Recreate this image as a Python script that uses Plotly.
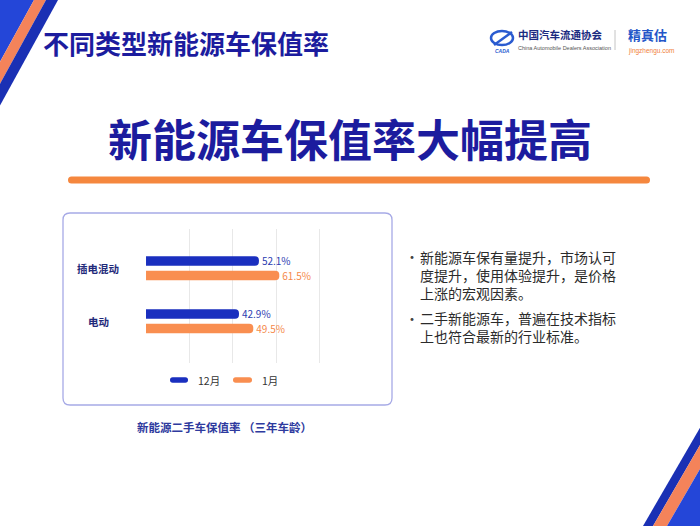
import plotly.graph_objects as go

# ---------------- data ----------------
categories = ["电动", "插电混动"]
series_names = ["12月", "1月"]
values_dec = [42.9, 52.1]
values_jan = [49.5, 61.5]

page_title = "不同类型新能源车保值率"
main_title = "新能源车保值率大幅提高"
caption = "新能源二手车保值率 （三年车龄）"
bullet_lines = [
    ["新能源车保有量提升，市场认可", "度提升，使用体验提升，是价格", "上涨的宏观因素。"],
    ["二手新能源车，普遍在技术指标", "上也符合最新的行业标准。"],
]

W, H = 700, 526
FONT = "Noto Sans CJK SC"
BLUE = "#1a2fbf"
ORANGE = "#f98e50"
NAVY = "#1c1c9e"


def px(x):
    return x / W


def py(y):
    return 1 - y / H


def poly(points, color):
    d = "M " + " L ".join(f"{px(x)},{py(y)}" for x, y in points) + " Z"
    return dict(type="path", xref="paper", yref="paper", path=d,
                fillcolor=color, line=dict(width=0), layer="below")


def pill(x0, x1, yc, r, color):
    pts = [
        f"M {px(x0 + r)},{py(yc - r)}",
        f"L {px(x1 - r)},{py(yc - r)}",
        f"Q {px(x1)},{py(yc - r)} {px(x1)},{py(yc)}",
        f"Q {px(x1)},{py(yc + r)} {px(x1 - r)},{py(yc + r)}",
        f"L {px(x0 + r)},{py(yc + r)}",
        f"Q {px(x0)},{py(yc + r)} {px(x0)},{py(yc)}",
        f"Q {px(x0)},{py(yc - r)} {px(x0 + r)},{py(yc - r)}",
        "Z",
    ]
    return dict(type="path", xref="paper", yref="paper", path=" ".join(pts),
                fillcolor=color, line=dict(width=0))


def rrect(x0, y0, x1, y1, r, line_color, fill="white", lw=1.3):
    pts = [
        f"M {px(x0 + r)},{py(y0)}",
        f"L {px(x1 - r)},{py(y0)}",
        f"Q {px(x1)},{py(y0)} {px(x1)},{py(y0 + r)}",
        f"L {px(x1)},{py(y1 - r)}",
        f"Q {px(x1)},{py(y1)} {px(x1 - r)},{py(y1)}",
        f"L {px(x0 + r)},{py(y1)}",
        f"Q {px(x0)},{py(y1)} {px(x0)},{py(y1 - r)}",
        f"L {px(x0)},{py(y0 + r)}",
        f"Q {px(x0)},{py(y0)} {px(x0 + r)},{py(y0)}",
        "Z",
    ]
    return dict(type="path", xref="paper", yref="paper", path=" ".join(pts),
                fillcolor=fill, line=dict(color=line_color, width=lw), layer="below")


def ann(text, x, y, size, color, bold=False, xanchor="left", yanchor="middle",
        family=FONT, angle=0, italic=False, align="left"):
    t = f"<b>{text}</b>" if bold else text
    if italic:
        t = f"<i>{t}</i>"
    return dict(text=t, x=px(x), y=py(y), xref="paper", yref="paper",
                xanchor=xanchor, yanchor=yanchor, showarrow=False,
                textangle=angle, borderpad=0, align=align,
                font=dict(family=family, size=size, color=color))


fig = go.Figure()

# order: 1月 drawn first (lower in each group), 12月 on top
fig.add_trace(go.Bar(
    y=categories, x=values_jan, name=series_names[1], orientation="h",
    marker=dict(color=ORANGE, line=dict(width=0)),
    texttemplate="%{x}%", textposition="outside", constraintext="none",
    textfont=dict(family=FONT, size=10, color="#f5894a"),
    cliponaxis=False, showlegend=False,
))
fig.add_trace(go.Bar(
    y=categories, x=values_dec, name=series_names[0], orientation="h",
    marker=dict(color=BLUE, line=dict(width=0)),
    texttemplate="%{x}%", textposition="outside", constraintext="none",
    textfont=dict(family=FONT, size=10, color="#2b3cb0"),
    cliponaxis=False, showlegend=False,
))

shapes = []
# decorative corner stripes, top-left
s = 0.55
shapes.append(poly([(0, 0), (34, 0), (34 - s * 62, 62), (0, 62)], "#2446d8"))
shapes.append(poly([(34, 0), (46, 0), (46 - s * 110, 110), (34 - s * 110, 110)], "#f4835a"))
shapes.append(poly([(46, 0), (58, 0), (58 - s * 110, 110), (46 - s * 110, 110)], "#1a30b4"))
# bottom-right
s2 = 0.58
shapes.append(poly([(643, 526), (653, 526), (653 + s2 * 120, 406), (643 + s2 * 120, 406)], "#1a30b4"))
shapes.append(poly([(653, 526), (667, 526), (667 + s2 * 120, 406), (653 + s2 * 120, 406)], "#f4835a"))
shapes.append(poly([(667, 526), (720, 526), (720, 406), (667 + s2 * 120, 406)], "#2446d8"))

# orange underline below main title
shapes.append(pill(68, 650, 180, 3.5, "#f5873e"))
# chart card
shapes.append(rrect(63, 213, 392, 405, 7, "#a7aae6"))
# logo separator
shapes.append(dict(type="line", xref="paper", yref="paper", x0=px(615), x1=px(615),
                   y0=py(30), y1=py(50), line=dict(color="#c4c4c4", width=1)))
# logo emblem
shapes.append(dict(type="circle", xref="paper", yref="paper", x0=px(491), x1=px(513),
                   y0=py(45), y1=py(31), line=dict(color="#2a5bd0", width=2.5)))
shapes.append(dict(type="line", xref="paper", yref="paper", x0=px(494), x1=px(512),
                   y0=py(45), y1=py(32), line=dict(color="#2a5bd0", width=2.5)))

# legend markers
shapes.append(pill(170, 188, 380, 2.7, BLUE))
shapes.append(pill(233, 252, 380, 2.7, ORANGE))

annotations = []
annotations.append(ann(page_title, 42, 42, 26, NAVY, bold=True))
annotations.append(ann(main_title, 350, 138, 44, NAVY, bold=True, xanchor="center"))

# logo texts
annotations.append(ann("中国汽车流通协会", 517, 43, 10.5, "#1a2a80", bold=True, yanchor="bottom"))
annotations.append(ann("China Automobile Dealers Association", 517, 44.5, 5.5, "#555555",
                       family="Liberation Sans", yanchor="top"))
annotations.append(ann("CADA", 502, 47, 5, "#2a5bd0", bold=True, xanchor="center", italic=True,
                       family="Liberation Sans", yanchor="top"))
annotations.append(ann("精真估", 627, 45, 13, "#2456c8", bold=True, yanchor="bottom"))
annotations.append(ann("jingzhengu.com", 627, 45.5, 6.5, "#f0803a", family="Liberation Sans",
                       yanchor="top"))

# category labels
for c in categories:
    annotations.append(dict(text=f"<b>{c}</b>", x=px(98), y=c, xref="paper", yref="y",
                            xanchor="center", yanchor="middle", showarrow=False,
                            font=dict(family=FONT, size=10.5, color="#1f2a7a")))

# legend texts
annotations.append(ann(series_names[0], 197, 380, 10.5, "#333333"))
annotations.append(ann(series_names[1], 261, 380, 10.5, "#333333"))

# caption
annotations.append(ann(caption, 224, 427, 11.5, "#2e3a9e", bold=True, xanchor="center"))

# bullet text (one text block per paragraph)
para_tops = [245.5, 307]
for lines, top in zip(bullet_lines, para_tops):
    annotations.append(ann("•", 412, top + 10.5, 14, "#444444", xanchor="center"))
    annotations.append(ann("<br>".join(lines), 419, top, 14, "#2b2b2b", yanchor="top"))

fig.update_layout(
    width=W, height=H,
    margin=dict(l=0, r=0, t=0, b=0),
    paper_bgcolor="white", plot_bgcolor="rgba(0,0,0,0)",
    barmode="group", bargap=0.452, bargroupgap=0.347,
    barcornerradius="50%",
    showlegend=False,
    xaxis=dict(domain=[px(146), px(362.7)], range=[-0.01, 100.01], dtick=20, tick0=0,
               showgrid=True, gridcolor="#e8e8e8", gridwidth=1, zeroline=False,
               showticklabels=False, showline=False, fixedrange=True),
    yaxis=dict(domain=[py(363), py(229)], type="category",
               categoryorder="array", categoryarray=categories,
               range=[-0.79, 1.74], showticklabels=False, showgrid=False,
               zeroline=False, showline=False, fixedrange=True),
    shapes=shapes,
    annotations=annotations,
)

fig.write_html("out.html", config={"displayModeBar": False},
               post_script="document.body.style.margin='0';")
